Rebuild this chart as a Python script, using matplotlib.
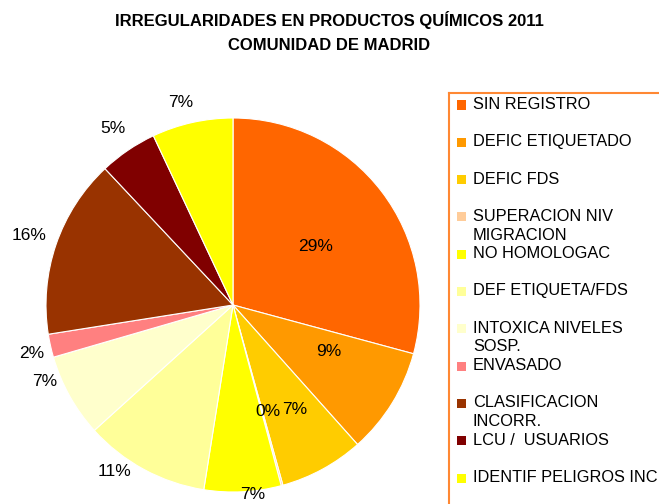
import numpy as np
import matplotlib
matplotlib.use("Agg")
import matplotlib.pyplot as plt
from matplotlib.patches import Rectangle

plt.rcParams['font.family'] = ['Liberation Sans', 'DejaVu Sans']

# Datos del grafico (porcentajes)
categorias = ["SIN REGISTRO", "DEFIC ETIQUETADO", "DEFIC FDS",
              "SUPERACION NIV\nMIGRACION", "NO HOMOLOGAC", "DEF ETIQUETA/FDS",
              "INTOXICA NIVELES\nSOSP.", "ENVASADO", "CLASIFICACION\nINCORR.",
              "LCU /  USUARIOS", "IDENTIF PELIGROS INC"]
valores = [29.2, 9.2, 7.3, 0.15, 6.65, 10.8, 7.2, 2.0, 15.5, 5.0, 7.0]
colores = ["#FF6600", "#FF9900", "#FFCC00", "#FFCC99", "#FFFF00", "#FFFF99",
           "#FFFFCC", "#FF8080", "#993300", "#800000", "#FFFF00"]

W, H = 659, 504
fig = plt.figure(figsize=(W / 100, H / 100), dpi=100)

# Ejes del pastel: centro (233, 305) px, radio 187 px
cx, cy, R = 233, 305, 187
ax = fig.add_axes([(cx - R) / W, (H - cy - R) / H, 2 * R / W, 2 * R / H])
wedges, _ = ax.pie(valores, colors=colores, startangle=90, counterclock=False,
                   wedgeprops=dict(edgecolor="white", linewidth=0.8))
for w in wedges:
    w.set_clip_on(False)
ax.set_xlim(-1, 1)
ax.set_ylim(-1, 1)
ax.set_aspect("equal")
ax.axis("off")

# Etiquetas de porcentaje: distancia radial y ajuste angular por sector
dist = [0.54, 0.57, 0.65, 0.60, 1.02, 1.09, 1.09, 1.11, 1.15, 1.14, 1.12]
ajuste = [-2, 6, 2, 3, 3, -7, -7, 1, 0, 0, 2]
for w, v, d, a in zip(wedges, valores, dist, ajuste):
    ang = np.deg2rad((w.theta1 + w.theta2) / 2 + a)
    ax.text(d * np.cos(ang), d * np.sin(ang), "%.0f%%" % v,
            ha="center", va="center", fontsize=12.5, color="black")

# Titulo
fig.text(0.5, 1 - 20 / H, "IRREGULARIDADES EN PRODUCTOS QUÍMICOS 2011",
         ha="center", va="center", fontsize=12, fontweight="bold")
fig.text(0.5, 1 - 45 / H, "COMUNIDAD DE MADRID",
         ha="center", va="center", fontsize=12, fontweight="bold")

# Leyenda manual (recortada por el borde derecho e inferior como en el original)
lx, ly = 449, 93
fig.add_artist(plt.Line2D([lx / W, lx / W], [1 - ly / H, 0], transform=fig.transFigure,
                          color="#FF8833", lw=1.5))
fig.add_artist(plt.Line2D([lx / W, 1], [1 - ly / H, 1 - ly / H], transform=fig.transFigure,
                          color="#FF8833", lw=1.5))
paso = 37.3
for i, (cat, col) in enumerate(zip(categorias, colores)):
    yc = 105 + i * paso
    fig.add_artist(Rectangle((457 / W, 1 - (yc + 4.5) / H), 9 / W, 9 / H,
                             transform=fig.transFigure, facecolor=col, edgecolor="none"))
    fig.text(473 / W, 1 - (yc - 8) / H, cat, ha="left", va="top", fontsize=11.8,
             linespacing=1.3)

fig.savefig("out.png", dpi=100)
